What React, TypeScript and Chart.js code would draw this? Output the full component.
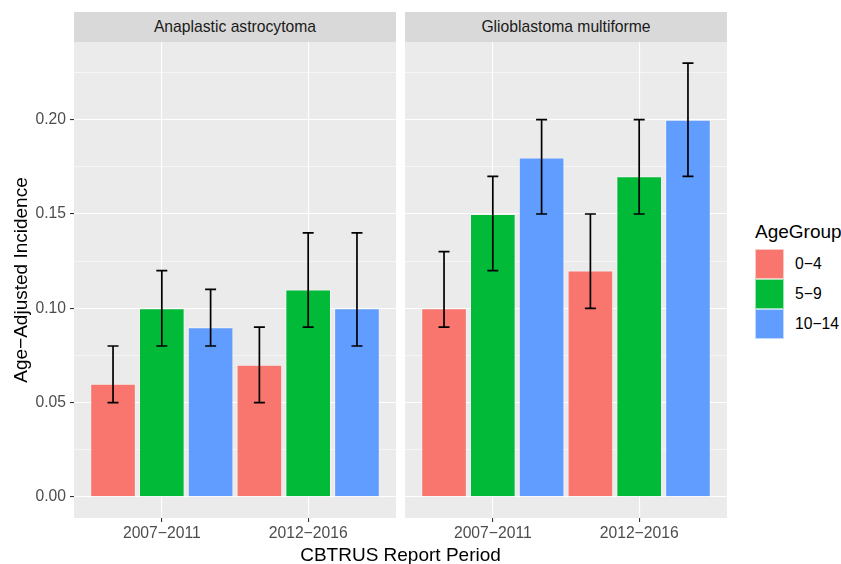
import { useEffect, useRef } from 'react';
import { Chart, registerables } from 'chart.js';

Chart.register(...registerables);

const periods = ['2007−2011', '2012−2016'];
const ageGroups = ['0−4', '5−9', '10−14'];
const ageColors = ['#F8766D', '#00BA38', '#619CFF'];
const panelTitles = ['Anaplastic astrocytoma', 'Glioblastoma multiforme'];

// [ageGroup][period]
const astroValues = [[0.06, 0.07], [0.10, 0.11], [0.09, 0.10]];
const astroLower = [[0.05, 0.05], [0.08, 0.09], [0.08, 0.08]];
const astroUpper = [[0.08, 0.09], [0.12, 0.14], [0.11, 0.14]];
const gbmValues = [[0.10, 0.12], [0.15, 0.17], [0.18, 0.20]];
const gbmLower = [[0.09, 0.10], [0.12, 0.15], [0.15, 0.17]];
const gbmUpper = [[0.13, 0.15], [0.17, 0.20], [0.20, 0.23]];

const yTicks = [0, 0.025, 0.05, 0.075, 0.1, 0.125, 0.15, 0.175, 0.2, 0.225];
const yTitle = 'Age−Adjusted Incidence';
const xTitle = 'CBTRUS Report Period';
const legendTitle = 'AgeGroup';

const FONT = "'Liberation Sans', Arial, Helvetica, sans-serif";
const SMALL = 15.7;
const LARGE = 19;

const isMajor = (v: number) => Math.abs(v * 20 - Math.round(v * 20)) < 1e-6;

const panelBg = {
  id: 'panelBg',
  beforeDraw(chart: any) {
    const { ctx, chartArea } = chart;
    ctx.save();
    ctx.fillStyle = '#EBEBEB';
    ctx.fillRect(chartArea.left, chartArea.top, chartArea.right - chartArea.left, chartArea.bottom - chartArea.top);
    ctx.restore();
  },
};

const errorBars = {
  id: 'errorBars',
  afterDatasetsDraw(chart: any, _args: any, opts: any) {
    const { ctx } = chart;
    const y = chart.scales.y;
    ctx.save();
    ctx.strokeStyle = '#000000';
    ctx.lineWidth = 1.7;
    chart.data.datasets.forEach((_ds: any, i: number) => {
      const meta = chart.getDatasetMeta(i);
      meta.data.forEach((el: any, j: number) => {
        const lo = y.getPixelForValue(opts.lower[i][j]);
        const hi = y.getPixelForValue(opts.upper[i][j]);
        const half = 5.5;
        ctx.beginPath();
        ctx.moveTo(el.x, lo);
        ctx.lineTo(el.x, hi);
        ctx.moveTo(el.x - half, lo);
        ctx.lineTo(el.x + half, lo);
        ctx.moveTo(el.x - half, hi);
        ctx.lineTo(el.x + half, hi);
        ctx.stroke();
      });
    });
    ctx.restore();
  },
};

function makePanel(canvas: HTMLCanvasElement, values: number[][], lower: number[][], upper: number[][], first: boolean) {
  return new Chart(canvas, {
    type: 'bar',
    data: {
      datasets: ageGroups.map((g, i) => ({
        label: g,
        data: periods.map((_p, j) => ({ x: j + 1, y: values[i][j] })),
        backgroundColor: ageColors[i],
        borderColor: 'rgba(255,255,255,0.45)',
        borderWidth: 1,
        categoryPercentage: 1,
        barPercentage: 0.935,
      })),
    },
    options: {
      animation: false,
      responsive: false,
      maintainAspectRatio: false,
      layout: { padding: { top: 42, bottom: 16, left: 0, right: first ? 4 : 0 } },
      plugins: {
        legend: { display: false },
        tooltip: { enabled: false },
        errorBars: { lower, upper },
      } as any,
      scales: {
        x: {
          type: 'linear',
          min: 0.4,
          max: 2.6,
          offset: false,
          afterBuildTicks: (s: any) => {
            s.ticks = periods.map((_p, j) => ({ value: j + 1 }));
          },
          afterFit: (s: any) => {
            s.height = 30;
          },
          border: { display: false },
          grid: {
            offset: false,
            color: '#FFFFFF',
            lineWidth: 1.1,
            tickLength: 4,
            tickColor: '#333333',
            tickWidth: 1.1,
          },
          ticks: {
            autoSkip: false,
            maxRotation: 0,
            padding: 2.5,
            color: '#4D4D4D',
            font: { family: FONT, size: SMALL },
            callback: (v: any) => periods[Math.round(Number(v)) - 1] ?? '',
          },
        },
        y: {
          type: 'linear',
          min: -0.0112,
          max: 0.2412,
          afterBuildTicks: (s: any) => {
            s.ticks = yTicks.map((v) => ({ value: v }));
          },
          afterFit: (s: any) => {
            s.width = first ? 74 : 0;
          },
          border: { display: false },
          grid: {
            color: '#FFFFFF',
            lineWidth: (c: any) => (c.tick && isMajor(c.tick.value) ? 1.1 : 0.55),
            drawTicks: first,
            tickLength: 4,
            tickColor: (c: any) => (c.tick && isMajor(c.tick.value) ? '#333333' : 'rgba(0,0,0,0)'),
            tickWidth: 1.1,
          },
          ticks: {
            display: first,
            autoSkip: false,
            padding: 4,
            color: '#4D4D4D',
            font: { family: FONT, size: SMALL },
            callback: (v: any) => (isMajor(Number(v)) ? Number(v).toFixed(2) : ''),
          },
          title: {
            display: first,
            text: yTitle,
            color: '#000000',
            font: { family: FONT, size: LARGE },
            padding: { top: 10.5, bottom: 0 },
          },
        },
      },
    } as any,
    plugins: [panelBg, errorBars],
  });
}

export default function App() {
  const ref1 = useRef<HTMLCanvasElement>(null);
  const ref2 = useRef<HTMLCanvasElement>(null);

  useEffect(() => {
    const c1 = makePanel(ref1.current!, astroValues, astroLower, astroUpper, true);
    const c2 = makePanel(ref2.current!, gbmValues, gbmLower, gbmUpper, false);
    return () => {
      c1.destroy();
      c2.destroy();
    };
  }, []);

  const strip = (left: number, width: number, text: string) => (
    <div
      style={{
        position: 'absolute',
        left,
        top: 12,
        width,
        height: 30,
        background: '#D9D9D9',
        color: '#1A1A1A',
        fontSize: SMALL,
        display: 'flex',
        alignItems: 'center',
        justifyContent: 'center',
      }}
    >
      {text}
    </div>
  );

  return (
    <div
      style={{
        position: 'absolute',
        left: 0,
        top: 0,
        width: 841,
        height: 564,
        background: '#FFFFFF',
        fontFamily: FONT,
        overflow: 'hidden',
      }}
    >
      <canvas ref={ref1} width={400} height={564} style={{ position: 'absolute', left: 0, top: 0, display: 'block' }} />
      <canvas ref={ref2} width={322} height={564} style={{ position: 'absolute', left: 405, top: 0, display: 'block' }} />
      {strip(74, 322, panelTitles[0])}
      {strip(405, 322, panelTitles[1])}
      <div
        style={{
          position: 'absolute',
          left: 74,
          width: 653,
          top: 544.5,
          height: 20,
          lineHeight: '20px',
          fontSize: LARGE,
          color: '#000000',
          textAlign: 'center',
          whiteSpace: 'nowrap',
        }}
      >
        {xTitle}
      </div>
      <div
        style={{
          position: 'absolute',
          left: 755,
          top: 221.6,
          height: 20,
          lineHeight: '20px',
          fontSize: LARGE,
          color: '#000000',
          whiteSpace: 'nowrap',
        }}
      >
        {legendTitle}
      </div>
      {ageGroups.map((g, i) => (
        <div key={g}>
          <div
            style={{
              position: 'absolute',
              left: 755,
              top: 249.3 + i * 29.9,
              width: 29.3,
              height: 29.9,
              boxSizing: 'border-box',
              background: ageColors[i],
              border: '1px solid rgba(255,255,255,0.6)',
            }}
          />
          <div
            style={{
              position: 'absolute',
              left: 795,
              top: 249.3 + i * 29.9,
              height: 29.9,
              lineHeight: '29.9px',
              fontSize: SMALL,
              color: '#000000',
              whiteSpace: 'nowrap',
            }}
          >
            {g}
          </div>
        </div>
      ))}
    </div>
  );
}
